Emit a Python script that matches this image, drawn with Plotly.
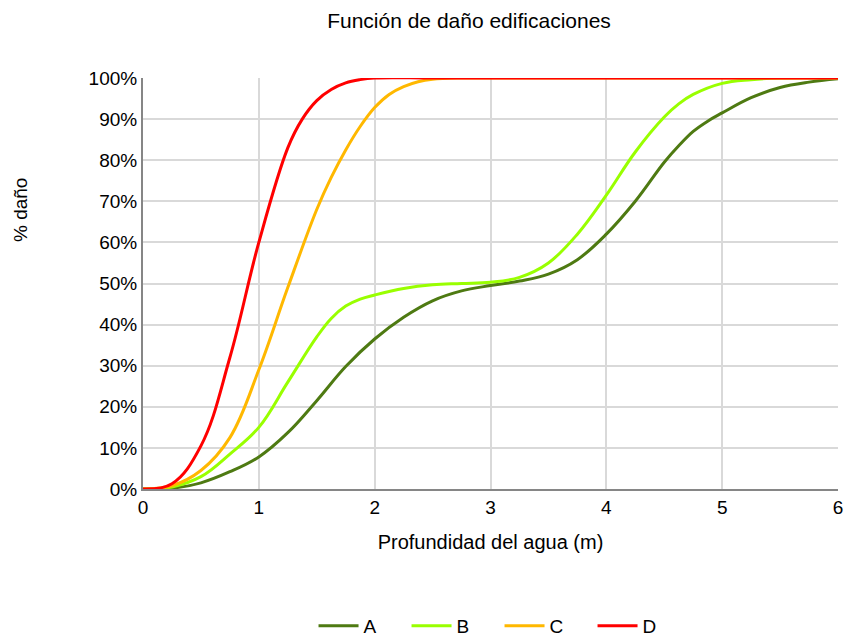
import plotly.graph_objects as go

# Water depth (m) and damage fraction per building type
depth_a = [0, 0.25, 0.5, 0.75, 1.0, 1.25, 1.5, 1.75, 2.0, 2.25, 2.5, 2.75, 3.0,
           3.25, 3.5, 3.75, 4.0, 4.25, 4.5, 4.625, 4.75, 4.875, 5.0, 5.25, 5.5, 5.75, 6.0]
dano_a = [0, 0.002, 0.015, 0.042, 0.078, 0.137, 0.215, 0.298, 0.365, 0.418, 0.458, 0.482, 0.495,
          0.506, 0.523, 0.558, 0.62, 0.70, 0.795, 0.835, 0.87, 0.895, 0.915, 0.952, 0.977, 0.99, 0.998]

depth_b = [0, 0.25, 0.5, 0.75, 1.0, 1.25, 1.5, 1.625, 1.75, 1.875, 2.0, 2.25, 2.5, 2.75, 3.0,
           3.25, 3.5, 3.75, 4.0, 4.25, 4.5, 4.625, 4.75, 5.0, 5.25, 5.5, 6.0]
dano_b = [0, 0.005, 0.03, 0.085, 0.15, 0.26, 0.37, 0.415, 0.445, 0.462, 0.472, 0.488, 0.497, 0.50, 0.503,
          0.515, 0.55, 0.62, 0.715, 0.82, 0.905, 0.937, 0.96, 0.987, 0.996, 1.0, 1.0]

depth_c = [0, 0.25, 0.5, 0.75, 1.0, 1.25, 1.5, 1.625, 1.75, 1.875, 2.0, 2.125, 2.25, 2.375, 2.5, 2.75, 3.0,
           4.0, 5.0, 6.0]
dano_c = [0, 0.008, 0.045, 0.125, 0.29, 0.49, 0.68, 0.758, 0.825, 0.882, 0.928, 0.96, 0.979, 0.991, 0.997, 1.0, 1.0,
          1.0, 1.0, 1.0]

depth_d = [0, 0.25, 0.5, 0.75, 1.0, 1.25, 1.375, 1.5, 1.625, 1.75, 1.875, 2.0, 2.5, 3.0,
           4.0, 5.0, 6.0]
dano_d = [0, 0.013, 0.105, 0.32, 0.60, 0.83, 0.90, 0.945, 0.972, 0.988, 0.996, 1.0, 1.0, 1.0,
          1.0, 1.0, 1.0]

series = [
    ("A", depth_a, dano_a, "#4E7A12"),
    ("B", depth_b, dano_b, "#99FF00"),
    ("C", depth_c, dano_c, "#FFB800"),
    ("D", depth_d, dano_d, "#FF0000"),
]

x_ticks = [0, 1, 2, 3, 4, 5, 6]
y_ticks = [i / 10 for i in range(11)]
y_tick_text = [f"{i * 10}%" for i in range(11)]

FONT = "Liberation Sans, Arial, sans-serif"

fig = go.Figure()
for name, xs, vals, color in series:
    fig.add_trace(go.Scatter(
        x=xs, y=vals, name=name, mode="lines",
        line=dict(color=color, width=3, shape="spline", smoothing=1.1),
    ))

fig.update_layout(
    width=846, height=637,
    margin=dict(l=143, r=8, t=78, b=148, autoexpand=False),
    paper_bgcolor="white", plot_bgcolor="white",
    font=dict(family=FONT, color="#000000", size=19),
    title=dict(text="Función de daño edificaciones", x=469 / 846, xanchor="center",
               y=1 - 21 / 637, yanchor="middle", font=dict(size=21, color="#000000")),
    showlegend=True,
    legend=dict(orientation="h", x=0.513, xanchor="center", y=(489 - 626) / 411, yanchor="middle",
                font=dict(size=19), tracegroupgap=0, entrywidth=38,
                itemwidth=40),
    annotations=[dict(text="% daño", textangle=-90, xref="paper", yref="paper",
                      x=-123 / 695, y=(489 - 210) / 411, xanchor="center", yanchor="middle",
                      showarrow=False, font=dict(size=19))],
)

fig.update_xaxes(
    range=[0, 6], tickvals=x_ticks, ticktext=[str(v) for v in x_ticks],
    showgrid=True, gridcolor="#D9D9D9", gridwidth=2,
    showline=True, linecolor="#868686", linewidth=2,
    zeroline=False, ticks="", ticklen=0, automargin=False,
    tickfont=dict(size=19),
    title=dict(text="Profundidad del agua (m)", font=dict(size=20), standoff=18),
)
fig.update_yaxes(
    range=[0, 1], tickvals=y_ticks, ticktext=y_tick_text,
    showgrid=True, gridcolor="#D9D9D9", gridwidth=2,
    showline=True, linecolor="#868686", linewidth=2,
    zeroline=False, ticks="", ticklen=0, automargin=False,
    tickfont=dict(size=19),
)

fig.write_html("out.html")
